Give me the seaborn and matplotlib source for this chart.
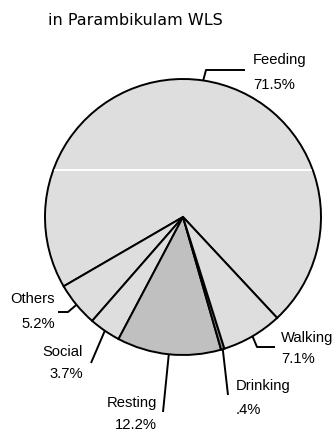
import numpy as np
import matplotlib
matplotlib.use("Agg")
import matplotlib.pyplot as plt
import seaborn as sns

# Données : budget d'activité (%)
activities = ["Feeding", "Others", "Social", "Resting", "Drinking", "Walking"]
percent = [71.5, 5.2, 3.7, 12.2, 0.4, 7.1]
colors = ["#dedede", "#dedede", "#dedede", "#c0c0c0", "#8c8c8c", "#dedede"]
title = "in Parambikulam WLS"

# Mise en page (pixels, y vers le bas)
center = (183, 217)
radius = 138
# coudes des lignes de rappel, position du texte, alignement, lignes de base (nom, %)
layout = {
    "Feeding": ([(206, 70), (245, 70)], 253, "left", 64, 89),
    "Others": ([(68, 312), (58, 312)], 55, "right", 303, 328),
    "Social": ([(91, 363)], 83, "right", 356, 378),
    "Resting": ([(163, 412)], 157, "right", 407, 429),
    "Drinking": ([(228, 395)], 236, "left", 390, 414),
    "Walking": ([(257, 347), (275, 347)], 281, "left", 342, 363),
}

sns.set_style("white")
plt.rcParams["font.family"] = ["Liberation Sans", "DejaVu Sans"]

fig = plt.figure(figsize=(3.34, 4.32), dpi=100)
ax = fig.add_axes([0, 0, 1, 1])

wedges, _ = ax.pie(percent, colors=colors, startangle=47, counterclock=False,
                   center=center, radius=radius, frame=True,
                   wedgeprops=dict(edgecolor="black", linewidth=1.4))

# ligne blanche horizontale dans la part "Feeding"
yl = 170
dx = np.sqrt(radius ** 2 - (yl - center[1]) ** 2)
ax.plot([center[0] - dx + 1.5, center[0] + dx - 1.5], [yl, yl], color="white", lw=1.4, zorder=3)

for w, name, p in zip(wedges, activities, percent):
    ang = np.deg2rad((w.theta1 + w.theta2) / 2)
    x0 = center[0] + radius * np.cos(ang)
    y0 = center[1] + radius * np.sin(ang)
    elbows, tx, ha, yb1, yb2 = layout[name]
    xs = [x0] + [e[0] for e in elbows]
    ys = [y0] + [e[1] for e in elbows]
    ax.plot(xs, ys, color="black", lw=1.4, solid_capstyle="butt", zorder=4)
    pct = f"{p:.1f}".lstrip("0") + "%"
    ax.text(tx, yb1, name, ha=ha, va="baseline", fontsize=10.6, color="black")
    ax.text(tx, yb2, pct, ha=ha, va="baseline", fontsize=10.6, color="black")

ax.text(48, 25, title, ha="left", va="baseline", fontsize=11.5,
        family="DejaVu Sans", color="black")

ax.set_xlim(0, 334)
ax.set_ylim(432, 0)
ax.set_aspect("auto")
ax.axis("off")

fig.savefig("out.png", dpi=100)
